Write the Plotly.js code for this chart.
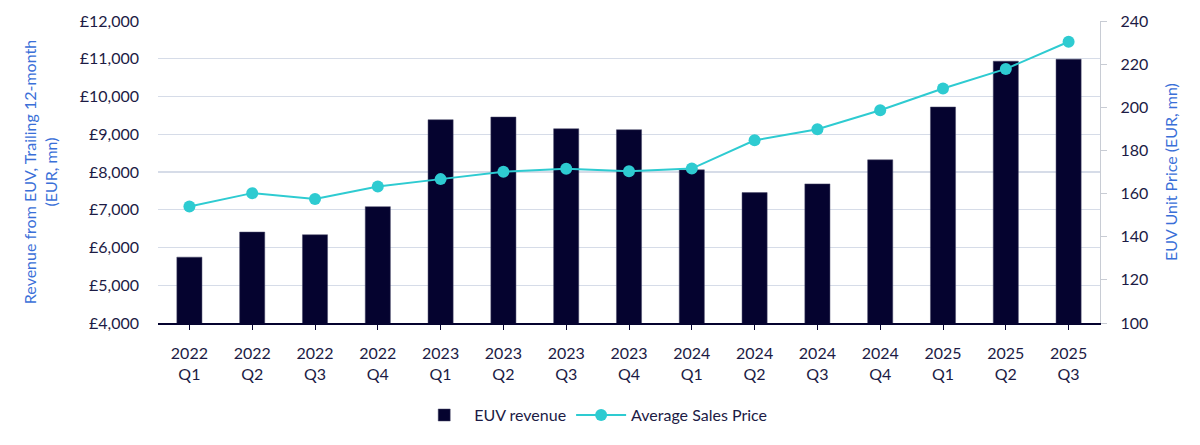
<!DOCTYPE html>
<html>
<head>
<meta charset="utf-8">
<script src="https://cdn.plot.ly/plotly-3.0.1.min.js"></script>
<style>
  html, body { margin: 0; padding: 0; background: #fff; }
  #chart { width: 1200px; height: 445px; }
</style>
</head>
<body>
<div id="chart"></div>
<script>
var quarters = ['2022<br>Q1', '2022<br>Q2', '2022<br>Q3', '2022<br>Q4',
                '2023<br>Q1', '2023<br>Q2', '2023<br>Q3', '2023<br>Q4',
                '2024<br>Q1', '2024<br>Q2', '2024<br>Q3', '2024<br>Q4',
                '2025<br>Q1', '2025<br>Q2', '2025<br>Q3'];
var euvRevenue = [5745, 6409, 6338, 7082, 9385, 9456, 9146, 9120,
                  8057, 7454, 7685, 8322, 9722, 10935, 10988];
var avgPrice = [154.0, 160.2, 157.5, 163.3, 166.7, 170.1, 171.5, 170.4,
                171.6, 184.7, 189.8, 198.6, 208.7, 217.8, 230.4];

var navy = '#05032f';
var teal = '#2ecbd1';
var blue = '#3a6fd8';
var tickText = '#1c1b45';

var bars = {
  x: quarters,
  y: euvRevenue,
  name: 'EUV revenue',
  type: 'bar',
  width: 0.4,
  marker: {color: navy, line: {color: '#4a4a6a', width: 0.5}}
};

var line = {
  x: quarters,
  y: avgPrice,
  name: 'Average Sales Price',
  type: 'scatter',
  mode: 'lines+markers',
  yaxis: 'y2',
  line: {color: teal, width: 2},
  marker: {color: teal, size: 12}
};

var layout = {
  width: 1200,
  height: 445,
  margin: {l: 158, r: 100, t: 21, b: 122},
  paper_bgcolor: '#fff',
  plot_bgcolor: '#fff',
  font: {family: 'Lato, "Open Sans", sans-serif', size: 16, color: tickText},
  showlegend: true,
  legend: {
    orientation: 'h',
    x: 0.462,
    xanchor: 'center',
    y: -0.305,
    yanchor: 'middle',
    font: {size: 16, color: tickText},
    itemwidth: 50
  },
  xaxis: {
    type: 'category',
    range: [-0.5, 14.5],
    automargin: false,
    tickangle: 0,
    showgrid: false,
    showline: true,
    linecolor: navy,
    linewidth: 1.5,
    ticks: 'outside',
    ticklen: 5,
    tickcolor: navy,
    ticklabelstandoff: 10,
    tickfont: {size: 16, color: tickText}
  },
  yaxis: {
    automargin: false,
    range: [4000, 12000],
    dtick: 1000,
    tickprefix: '£',
    tickformat: ',d',
    showgrid: true,
    gridcolor: '#d6dce8',
    gridwidth: 1.3,
    zeroline: false,
    showline: false,
    ticklabelstandoff: 18,
    tickfont: {size: 16, color: tickText},
    title: {
      text: 'Revenue from EUV, Trailing 12-month<br>(EUR, mn)',
      font: {size: 16, color: blue},
      standoff: 18
    }
  },
  yaxis2: {
    automargin: false,
    overlaying: 'y',
    side: 'right',
    range: [100, 240],
    dtick: 20,
    showgrid: false,
    zeroline: false,
    showline: true,
    linecolor: '#c8ccd4',
    linewidth: 1.2,
    ticks: 'outside',
    ticklen: 6,
    tickcolor: '#c8ccd4',
    ticklabelstandoff: 10,
    tickfont: {size: 16, color: tickText},
    title: {
      text: 'EUV Unit Price (EUR, mn)',
      font: {size: 16, color: blue},
      standoff: 18
    }
  }
};

Plotly.newPlot('chart', [bars, line], layout, {displayModeBar: false, staticPlot: true});
</script>
</body>
</html>
